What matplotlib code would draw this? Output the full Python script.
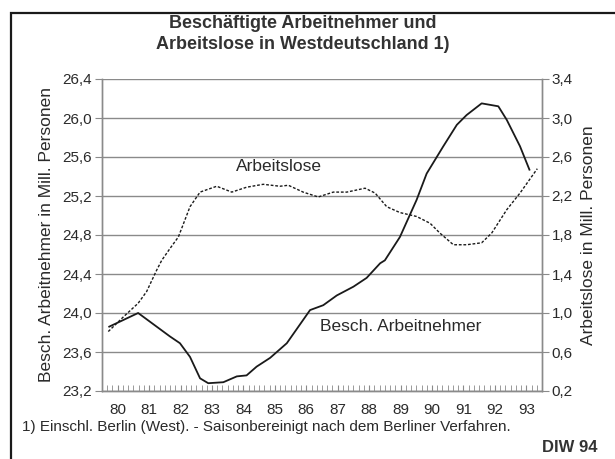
import matplotlib.pyplot as plt
import matplotlib.patches as patches
import numpy as np

plt.rcParams["font.family"] = ["Liberation Sans", "DejaVu Sans"]

# Beschaeftigte Arbeitnehmer (Mill., linke Achse)
besch_x = [1980.23, 1981.15, 1982.16, 1982.48, 1982.80, 1983.12, 1983.38, 1983.86,
           1984.29, 1984.60, 1984.92, 1985.35, 1985.88, 1986.62, 1987.04, 1987.47,
           1988.00, 1988.42, 1988.85, 1989.00, 1989.48, 1990.01, 1990.33, 1990.86,
           1991.29, 1991.60, 1992.08, 1992.61, 1992.88, 1993.30, 1993.60]
besch_y = [23.86, 24.00, 23.76, 23.69, 23.55, 23.33, 23.28, 23.29,
           23.35, 23.36, 23.45, 23.54, 23.69, 24.03, 24.08, 24.18,
           24.27, 24.36, 24.51, 24.54, 24.78, 25.16, 25.43, 25.71,
           25.93, 26.03, 26.15, 26.12, 25.98, 25.71, 25.47]

# Arbeitslose (Mill., rechte Achse)
alo_x = [1980.20, 1980.68, 1981.15, 1981.42, 1981.74, 1981.90, 1982.16, 1982.43,
         1982.80, 1983.12, 1983.65, 1984.13, 1984.60, 1985.13, 1985.66, 1985.93,
         1986.40, 1986.88, 1987.36, 1987.79, 1988.37, 1988.69, 1989.06, 1989.48,
         1990.01, 1990.44, 1990.75, 1991.18, 1991.60, 1992.08, 1992.40, 1992.88,
         1993.30, 1993.85]
alo_y = [0.81, 0.96, 1.10, 1.22, 1.44, 1.54, 1.66, 1.78,
         2.09, 2.24, 2.30, 2.24, 2.29, 2.32, 2.30, 2.31,
         2.24, 2.19, 2.24, 2.24, 2.28, 2.23, 2.09, 2.03,
         1.99, 1.92, 1.82, 1.70, 1.70, 1.72, 1.82, 2.06,
         2.23, 2.48]

years = list(range(1980, 1994))
year_labels = [str(y - 1900) for y in years]
left_ticks = [23.2, 23.6, 24.0, 24.4, 24.8, 25.2, 25.6, 26.0, 26.4]
right_ticks = [0.2, 0.6, 1.0, 1.4, 1.8, 2.2, 2.6, 3.0, 3.4]

fig = plt.figure(figsize=(6.15, 4.59), dpi=100)
ax = fig.add_axes([102 / 615, 1 - 391 / 459, 440 / 615, 312 / 459])
ax2 = ax.twinx()

grid_c = "#8a8a8a"
txt_c = "#2a2a2a"

for v in left_ticks:
    ax.axhline(v, color=grid_c, lw=1.0, zorder=1)

ax.plot(besch_x, besch_y, color="#1a1a1a", lw=1.3, zorder=3)
ax2.plot(alo_x, alo_y, color="#1a1a1a", lw=1.0, ls=(0, (2, 1.3)), zorder=3)

ax.set_xlim(1980, 1994)
ax.set_ylim(23.2, 26.4)
ax2.set_ylim(0.2, 3.4)

ax.set_yticks(left_ticks)
ax.set_yticklabels([f"{v:.1f}".replace(".", ",") for v in left_ticks])
ax2.set_yticks(right_ticks)
ax2.set_yticklabels([f"{v:.1f}".replace(".", ",") for v in right_ticks])

ax.set_xticks([y + 0.5 for y in years])
ax.set_xticklabels(year_labels)
ax.set_xticks(np.arange(1980, 1994.01, 1 / 6), minor=True)
ax.tick_params(axis="x", which="both", direction="in", length=4, color=grid_c,
               labelsize=11, labelcolor=txt_c, pad=9)
ax.tick_params(axis="y", direction="out", length=5, color=grid_c,
               labelsize=11, labelcolor=txt_c, pad=2)
ax2.tick_params(axis="y", direction="out", length=5, color=grid_c,
                labelsize=11, labelcolor=txt_c, pad=2)

for a in (ax, ax2):
    a.spines["top"].set_visible(False)
    for s in ("left", "right", "bottom"):
        a.spines[s].set_color(grid_c)
        a.spines[s].set_linewidth(1.0)
    a.patch.set_visible(False)

ax.set_ylabel("Besch. Arbeitnehmer in Mill. Personen", fontsize=12.5, color=txt_c, labelpad=6)
ax2.set_ylabel("Arbeitslose in Mill. Personen", fontsize=12.5, color=txt_c, labelpad=6)

ax.text(1985.63, 25.50, "Arbeitslose", fontsize=12.5, color=txt_c, ha="center", va="center")
ax.text(1989.51, 23.86, "Besch. Arbeitnehmer", fontsize=12.5, color=txt_c, ha="center", va="center")

fig.text(0.492, 1 - 34 / 459, "Beschäftigte Arbeitnehmer und\nArbeitslose in Westdeutschland 1)",
         fontsize=13, fontweight="bold", color="#333333", ha="center", va="center",
         linespacing=1.3)
fig.text(22 / 615, 1 - 427 / 459,
         "1) Einschl. Berlin (West). - Saisonbereinigt nach dem Berliner Verfahren.",
         fontsize=11, color=txt_c, ha="left", va="center")
fig.text(597 / 615, 1 - 448 / 459, "DIW 94", fontsize=12, fontweight="bold",
         color="#333333", ha="right", va="center")

# Rahmen oben und links
fig.patches.append(patches.Rectangle((11 / 615, -0.1), 1.2, 1 - 13 / 459 + 0.1,
                                     transform=fig.transFigure, fill=False,
                                     edgecolor="#1a1a1a", lw=1.6))

fig.savefig("out.png", dpi=100)
